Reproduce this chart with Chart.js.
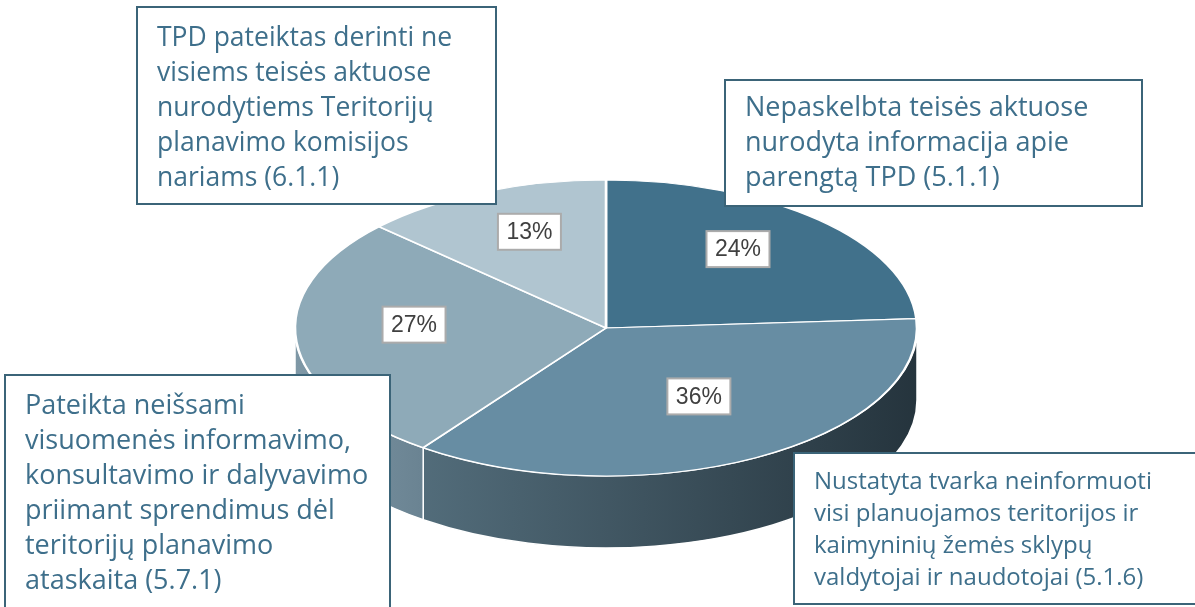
<!DOCTYPE html>
<html>
<head>
<meta charset="utf-8">
<script src="https://cdn.jsdelivr.net/npm/chart.js@4.4.1/dist/chart.umd.min.js"></script>
<style>
html, body { margin: 0; padding: 0; background: #fff; overflow: hidden; }
#wrap { width: 1195px; height: 607px; }
</style>
</head>
<body>
<div id="wrap"><canvas id="chart" width="1195" height="607"></canvas></div>
<script>
// categories (callout texts, line by line) and shares
const categories = [
    ['Nepaskelbta teisės aktuose', 'nurodyta informacija apie', 'parengtą TPD (5.1.1)'],
    ['Nustatyta tvarka neinformuoti', 'visi planuojamos teritorijos ir', 'kaimyninių žemės sklypų', 'valdytojai ir naudotojai (5.1.6)'],
    ['Pateikta neišsami', 'visuomenės informavimo,', 'konsultavimo ir dalyvavimo', 'priimant sprendimus dėl', 'teritorijų planavimo', 'ataskaita (5.7.1)'],
    ['TPD pateiktas derinti ne', 'visiems teisės aktuose', 'nurodytiems Teritorijų', 'planavimo komisijos', 'nariams (6.1.1)']
];
const shares = [24, 36, 27, 13];
const percentLabels = ['24%', '36%', '27%', '13%'];
const topColors = ['#41718b', '#678da3', '#8eaab8', '#b0c5d0'];
const sideColors = [['#3a6379', '#2b4b5c'], ['#526c7a', '#25343d'], ['#7f98a6', '#6a8392'], ['#9cb2be', '#8aa1ad']];

// ellipse geometry of the tilted pie
const CX = 606, CY = 328, RX = 311, RY = 148, DEPTH = 72;
const LABEL_R = 0.62, LABEL_DY = -12;

// callout boxes, same order as categories
const boxes = [
    { x: 725, y: 80, w: 417, h: 126, first: 28, gap: 35, size: 27 },
    { x: 794, y: 453, w: 420, h: 151, first: 29, gap: 32, size: 24 },
    { x: 5, y: 375, w: 385, h: 260, first: 31, gap: 35, size: 27 },
    { x: 137, y: 7, w: 359, h: 197, first: 31, gap: 35, size: 26.5 }
];
const boxBorder = '#3b6478';
const boxText = '#3e6f8b';

const pie3d = {
    id: 'pie3d',
    beforeDatasetsDraw(chart) {
        const ctx = chart.ctx;
        const arcs = chart.getDatasetMeta(0).data;
        // side walls of the front half
        ctx.save();
        arcs.forEach((arc, i) => {
            const a0 = Math.max(arc.startAngle, 0);
            const a1 = Math.min(arc.endAngle, Math.PI);
            if (a1 <= a0) return;
            const xs = [CX + RX * Math.cos(a0), CX + RX * Math.cos(a1)];
            if (a0 < 0.001) xs.push(CX + RX);
            const x0 = Math.min(...xs), x1 = Math.max(...xs);
            const g = ctx.createLinearGradient(x0, 0, x1, 0);
            g.addColorStop(0, sideColors[i][0]);
            g.addColorStop(1, sideColors[i][1]);
            ctx.beginPath();
            ctx.ellipse(CX, CY, RX, RY, 0, a0, a1);
            ctx.ellipse(CX, CY + DEPTH, RX, RY, 0, a1, a0, true);
            ctx.closePath();
            ctx.fillStyle = g;
            ctx.fill();
            ctx.strokeStyle = '#ffffff';
            ctx.lineWidth = 1.5;
            ctx.stroke();
        });
        ctx.restore();
        // squash the flat pie into the ellipse
        const arc = arcs[0];
        const R = arc.outerRadius;
        ctx.save();
        ctx.translate(CX, CY);
        ctx.scale(RX / R, RY / R);
        ctx.translate(-arc.x, -arc.y);
    },
    afterDatasetsDraw(chart) {
        const ctx = chart.ctx;
        ctx.restore();
        const arcs = chart.getDatasetMeta(0).data;
        // percentage labels
        ctx.save();
        ctx.font = '23px "Liberation Sans", Arial, sans-serif';
        ctx.textAlign = 'center';
        ctx.textBaseline = 'middle';
        arcs.forEach((arc, i) => {
            const mid = (arc.startAngle + arc.endAngle) / 2;
            const x = CX + RX * LABEL_R * Math.cos(mid);
            const y = CY + RY * LABEL_R * Math.sin(mid) + LABEL_DY;
            ctx.fillStyle = '#ffffff';
            ctx.fillRect(x - 31.5, y - 18, 63, 36);
            ctx.strokeStyle = '#ababab';
            ctx.lineWidth = 2;
            ctx.strokeRect(x - 31.5, y - 18, 63, 36);
            ctx.fillStyle = '#404040';
            ctx.fillText(percentLabels[i], x, y + 1);
        });
        // callout boxes
        ctx.textAlign = 'left';
        categories.forEach((lines, i) => {
            const b = boxes[i];
            ctx.fillStyle = '#ffffff';
            ctx.fillRect(b.x, b.y, b.w, b.h);
            ctx.strokeStyle = boxBorder;
            ctx.lineWidth = 2;
            ctx.strokeRect(b.x, b.y, b.w, b.h);
            ctx.fillStyle = boxText;
            ctx.font = b.size + 'px "Open Sans", sans-serif';
            lines.forEach((line, j) => {
                ctx.fillText(line, b.x + 20, b.y + b.first + j * b.gap);
            });
        });
        ctx.restore();
    }
};

new Chart(document.getElementById('chart'), {
    type: 'pie',
    data: {
        labels: categories.map(c => c.join(' ')),
        datasets: [{
            data: shares,
            backgroundColor: topColors,
            borderColor: '#ffffff',
            borderWidth: 2.5
        }]
    },
    options: {
        responsive: false,
        animation: false,
        events: [],
        plugins: {
            legend: { display: false },
            tooltip: { enabled: false }
        }
    },
    plugins: [pie3d]
});
</script>
</body>
</html>
